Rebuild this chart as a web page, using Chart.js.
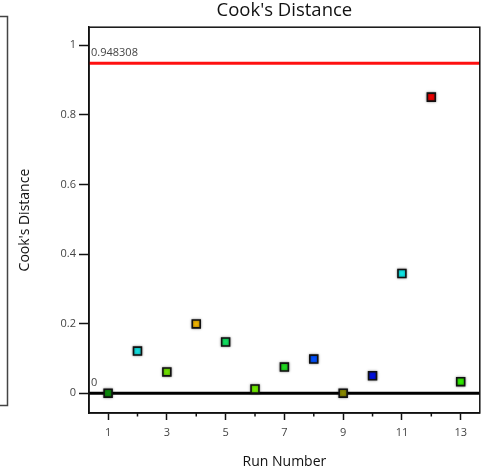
<!DOCTYPE html>
<html>
<head>
<meta charset="utf-8">
<script src="https://cdn.jsdelivr.net/npm/chart.js@4"></script>
<style>
  html, body { margin: 0; padding: 0; background: #fff; }
  #wrap { width: 487px; height: 473px; position: relative; }
</style>
</head>
<body>
<div id="wrap"><canvas id="c"></canvas></div>
<script>
// Cook's distance per run
const runs = [1, 2, 3, 4, 5, 6, 7, 8, 9, 10, 11, 12, 13];
const cooksD = [0.0, 0.121, 0.061, 0.199, 0.147, 0.012, 0.075, 0.098, 0.0, 0.050, 0.344, 0.851, 0.033];
const pointColors = ['#0c8a0c', '#14e0e0', '#6fe000', '#f0b400', '#10e060', '#70ee00',
                     '#22dd22', '#0050ff', '#8a8a00', '#0010e0', '#10e6e6', '#ee0000', '#30ee00'];
const limitValue = 0.948308;
const baseValue = 0;
const xTicks = [1, 2, 3, 4, 5, 6, 7, 8, 9, 10, 11, 12, 13];
const yTicks = [0, 0.2, 0.4, 0.6, 0.8, 1];

const FONT = '"Open Sans", "DejaVu Sans", sans-serif';

// Reference lines (limit and zero), frame and minor ticks
const decor = {
  id: 'decor',
  beforeDatasetsDraw(chart) {
    const { ctx, chartArea: a, scales: { y } } = chart;
    ctx.save();
    const yl = y.getPixelForValue(limitValue);
    ctx.strokeStyle = '#ff1010';
    ctx.lineWidth = 3;
    ctx.beginPath(); ctx.moveTo(a.left, yl); ctx.lineTo(a.right, yl); ctx.stroke();
    const y0 = y.getPixelForValue(baseValue);
    ctx.strokeStyle = '#000';
    ctx.beginPath(); ctx.moveTo(a.left, y0); ctx.lineTo(a.right, y0); ctx.stroke();
    ctx.fillStyle = '#444';
    ctx.font = '11px ' + FONT;
    ctx.textBaseline = 'middle';
    ctx.textAlign = 'left';
    ctx.fillText(String(limitValue), a.left + 2, yl - 10);
    ctx.fillText(String(baseValue), a.left + 2, y0 - 10);
    ctx.restore();
  },
  beforeDatasetDraw(chart) {
    const ctx = chart.ctx;
    ctx.save();
    ctx.shadowColor = 'rgba(0,0,0,0.45)';
    ctx.shadowBlur = 2.5;
  },
  afterDatasetDraw(chart) {
    chart.ctx.restore();
  },
  afterDraw(chart) {
    const { ctx, chartArea: a, scales: { x } } = chart;
    ctx.save();
    ctx.strokeStyle = '#111';
    ctx.lineWidth = 1.5;
    ctx.strokeRect(a.left, a.top, a.right - a.left, a.bottom - a.top);
    // short ticks for even run numbers
    x.ticks.forEach(t => {
      if (t.value % 2 === 0) {
        const px = x.getPixelForValue(t.value);
        ctx.beginPath(); ctx.moveTo(px, a.bottom); ctx.lineTo(px, a.bottom + 3.5); ctx.stroke();
      }
    });
    // edge of the neighbouring panel
    ctx.strokeStyle = '#444';
    ctx.beginPath();
    ctx.moveTo(0, 16.5); ctx.lineTo(7.5, 16.5); ctx.lineTo(7.5, 405.5); ctx.lineTo(0, 405.5);
    ctx.stroke();
    ctx.restore();
  }
};

new Chart(document.getElementById('c'), {
  type: 'scatter',
  data: {
    datasets: [{
      data: runs.map((r, i) => ({ x: r, y: cooksD[i] })),
      pointStyle: 'rect',
      pointRadius: 5.6,
      pointHoverRadius: 5.6,
      pointBackgroundColor: pointColors,
      pointBorderColor: '#111',
      pointBorderWidth: 1.6
    }]
  },
  options: {
    responsive: true,
    maintainAspectRatio: false,
    animation: false,
    events: [],
    layout: { padding: { left: 0, right: 6, top: 0, bottom: 0 } },
    plugins: {
      legend: { display: false },
      tooltip: { enabled: false },
      title: {
        display: true,
        fullSize: false,
        text: "Cook's Distance",
        color: '#111',
        font: { family: FONT, size: 18.5, weight: 'normal' },
        padding: { top: 0, bottom: 5 }
      }
    },
    scales: {
      x: {
        type: 'linear',
        min: 0.35,
        max: 13.65,
        afterBuildTicks: s => { s.ticks = xTicks.map(v => ({ value: v })); },
        afterFit: s => { s.height = 60; },
        ticks: {
          autoSkip: false,
          maxRotation: 0,
          color: '#444',
          padding: 6,
          font: { family: FONT, size: 11 },
          callback: v => (v % 2 === 1 ? String(v) : '')
        },
        grid: {
          drawOnChartArea: false,
          drawTicks: true,
          tickLength: 7,
          tickWidth: 1.5,
          tickColor: c => (c.tick && c.tick.value % 2 === 1 ? '#111' : 'rgba(0,0,0,0)')
        },
        border: { display: true, color: '#111', width: 1.5 },
        title: {
          display: true,
          text: 'Run Number',
          color: '#111',
          font: { family: FONT, size: 14 },
          padding: { top: 0, bottom: 2.6 }
        }
      },
      y: {
        type: 'linear',
        min: -0.057,
        max: 1.052,
        afterBuildTicks: s => { s.ticks = yTicks.map(v => ({ value: v })); },
        afterFit: s => { s.width = 89; },
        ticks: {
          color: '#444',
          padding: 3,
          font: { family: FONT, size: 11 },
          callback: v => String(v)
        },
        grid: {
          drawOnChartArea: false,
          drawTicks: true,
          tickLength: 10,
          tickWidth: 1.5,
          tickColor: '#111'
        },
        border: { display: true, color: '#111', width: 1.5 },
        title: {
          display: true,
          text: "Cook's Distance",
          color: '#111',
          font: { family: FONT, size: 14 },
          padding: { top: 17, bottom: 0 }
        }
      }
    }
  },
  plugins: [decor]
});
</script>
</body>
</html>
